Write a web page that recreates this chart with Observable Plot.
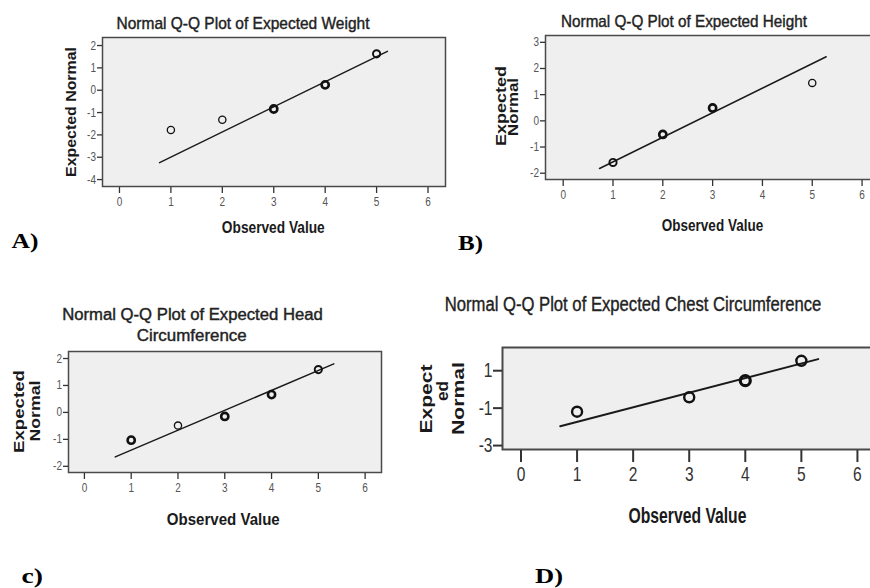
<!DOCTYPE html>
<html><head><meta charset="utf-8">
<script src="https://cdn.jsdelivr.net/npm/d3@7"></script>
<script src="https://cdn.jsdelivr.net/npm/@observablehq/plot@0.6"></script>
<style>
html,body{margin:0;padding:0;background:#fff;}
#wrap{position:relative;width:870px;height:588px;overflow:hidden;background:#fff;}
#wrap > svg{position:absolute;margin:0;overflow:visible;}
</style></head><body><div id="wrap"></div>
<script>
// ---- data ----
const xTickValues = [0, 1, 2, 3, 4, 5, 6];

const weightObserved = [1, 2, 3, 4, 5];
const weightExpected = [-1.78, -1.32, -0.84, 0.24, 1.63];
const weightOverlap  = [1, 1, 2, 2, 1.5];
const weightLineX = [0.78, 5.21];
const weightLineY = [-3.24, 1.74];
const weightYTicks = [2, 1, 0, -1, -2, -3, -4];

const heightObserved = [1, 2, 3, 5];
const heightExpected = [-1.59, -0.52, 0.49, 1.45];
const heightOverlap  = [1.5, 2, 2, 1];
const heightLineX = [0.73, 5.28];
const heightLineY = [-1.82, 2.45];
const heightYTicks = [3, 2, 1, 0, -1, -2];

const headObserved = [1, 2, 3, 4, 5];
const headExpected = [-1.03, -0.49, -0.15, 0.66, 1.59];
const headOverlap  = [2, 1, 2, 2, 1.5];
const headLineX = [0.66, 5.33];
const headLineY = [-1.65, 1.80];
const headYTicks = [2, 1, 0, -1, -2];

const chestObserved = [1, 3, 4, 5];
const chestExpected = [-1.19, -0.42, 0.47, 1.53];
const chestOverlap  = [1.5, 1.5, 2, 1.5];
const chestLineX = [0.70, 5.30];
const chestLineY = [-1.97, 1.62];
const chestYTicks = [1, -1, -3];

const titles = [
  ["Normal Q-Q Plot of Expected Weight"],
  ["Normal Q-Q Plot of Expected Height"],
  ["Normal Q-Q Plot of Expected Head", "Circumference"],
  ["Normal Q-Q Plot of Expected Chest Circumference"]
];
const yLabels = [["Expected Normal"], ["Expected", "Normal"], ["Expected", "Normal"], ["Expect", "ed", "Normal"]];
const xLabels = ["Observed Value", "Observed Value", "Observed Value", "Observed Value"];
const panelLetters = ["A)", "B)", "c)", "D)"];

// ---- layout ----
const panels = [
  {obs: weightObserved, exp: weightExpected, ov: weightOverlap, lx: weightLineX, ly: weightLineY, yTicks: weightYTicks,
   frame: [102, 37, 445, 186], xDomain: [-0.33, 6.34], yDomain: [-4.31, 2.36],
   fs: 12.5, sq: 0.8, tsx: 6, tpx: 4, tsy: 5, tpy: 1.5, r: 3.6, sw: 1.3, labelFill: "#555"},
  {obs: heightObserved, exp: heightExpected, ov: heightOverlap, lx: heightLineX, ly: heightLineY, yTicks: heightYTicks,
   frame: [545, 35, 878, 179], xDomain: [-0.355, 6.33], yDomain: [-2.24, 3.26],
   fs: 12.5, sq: 0.8, tsx: 6, tpx: 4, tsy: 5, tpy: 1.5, r: 3.6, sw: 1.3, labelFill: "#555"},
  {obs: headObserved, exp: headExpected, ov: headOverlap, lx: headLineX, ly: headLineY, yTicks: headYTicks,
   frame: [68, 351, 381, 472], xDomain: [-0.34, 6.35], yDomain: [-2.23, 2.26],
   fs: 12.5, sq: 0.8, tsx: 6, tpx: 4, tsy: 5, tpy: 1.5, r: 3.6, sw: 1.3, labelFill: "#555"},
  {obs: chestObserved, exp: chestExpected, ov: chestOverlap, lx: chestLineX, ly: chestLineY, yTicks: chestYTicks,
   frame: [502, 347, 876, 449], xDomain: [-0.33, 6.34], yDomain: [-3.21, 2.24],
   fs: 21, sq: 0.74, tsx: 12, tpx: 4, tsy: 9, tpy: 1, r: 5, sw: 1.6, labelFill: "#333", strokeW: 2}
];

const ML = 50, MT = 6, MR = 6, MB = 45;
const wrap = document.getElementById("wrap");
const tickFmt = d => String(d);

panels.forEach(p => {
  const [x0, y0, x1, y1] = p.frame;
  const pts = p.obs.map((o, i) => ({o, e: p.exp[i], k: p.ov[i]}));
  const line = p.lx.map((o, i) => ({o, e: p.ly[i]}));
  const svg = Plot.plot({
    width: x1 - x0 + ML + MR,
    height: y1 - y0 + MT + MB,
    marginLeft: ML, marginTop: MT, marginRight: MR, marginBottom: MB,
    style: {fontFamily: "'Liberation Sans',Arial,sans-serif", background: "transparent", overflow: "visible"},
    x: {domain: p.xDomain, label: null},
    y: {domain: p.yDomain, label: null},
    marks: [
      Plot.frame({fill: "#efefef", stroke: "#4a4a4a", strokeWidth: p.strokeW || 1.5}),
      Plot.line(line, {x: "o", y: "e", stroke: "#1a1a1a", strokeWidth: p.strokeW || 1.5}),
      Plot.dot(pts, {x: "o", y: "e", r: p.r, stroke: "#111", fill: "none", strokeWidth: d => p.sw * d.k}),
      Plot.axisX({ticks: xTickValues, tickFormat: tickFmt, tickSize: p.tsx, tickPadding: p.tpx, dy: 1, fontSize: p.fs,
                  stroke: "#333", strokeWidth: p.strokeW || 1.3, fill: p.labelFill, label: null}),
      Plot.axisY({ticks: p.yTicks, tickFormat: tickFmt, tickSize: p.tsy, tickPadding: p.tpy, fontSize: p.fs,
                  stroke: "#333", strokeWidth: p.strokeW || 1.3, fill: p.labelFill, label: null})
    ]
  });
  svg.style.left = (x0 - ML) + "px";
  svg.style.top = (y0 - MT) + "px";
  wrap.appendChild(svg);
  // narrow the tick labels like the condensed SPSS font
  svg.querySelectorAll('g[aria-label$="tick label"] text').forEach(t => {
    const w = t.getComputedTextLength();
    t.setAttribute("textLength", (w * p.sq).toFixed(2));
    t.setAttribute("lengthAdjust", "spacingAndGlyphs");
  });
});

// ---- text overlay ----
const textLayout = {
  titles: [
    [{x: 243, y: 29, len: 253, fs: 16}],
    [{x: 684, y: 26.5, len: 246, fs: 16}],
    [{x: 192.5, y: 320, len: 261, fs: 16}, {x: 191.7, y: 340.5, len: 110, fs: 16}],
    [{x: 633, y: 311, len: 377, fs: 21}]
  ],
  ylab: [
    [{x: 76, y: 112, len: 130, fs: 15}],
    [{x: 505.5, y: 106, len: 80, fs: 15}, {x: 517.5, y: 107, len: 58, fs: 15}],
    [{x: 23.5, y: 411.5, len: 83, fs: 15}, {x: 40, y: 411, len: 61, fs: 15}],
    [{x: 431.5, y: 399, len: 69, fs: 16}, {x: 447.5, y: 391, len: 20, fs: 16}, {x: 463.5, y: 398.5, len: 73, fs: 16}]
  ],
  xlab: [
    {x: 273.3, y: 233, len: 103, fs: 16},
    {x: 712.5, y: 230.5, len: 101.5, fs: 16},
    {x: 223.3, y: 525, len: 113, fs: 16},
    {x: 687.5, y: 523, len: 118, fs: 22}
  ],
  letters: [
    {x: 11.5, y: 248, len: 27, fs: 21},
    {x: 458, y: 250, len: 25, fs: 21},
    {x: 21.5, y: 583, len: 21.5, fs: 21},
    {x: 535, y: 583, len: 28, fs: 22}
  ]
};

const ov = d3.select(wrap).append("svg")
  .attr("width", 870).attr("height", 588)
  .style("left", "0px").style("top", "0px");

const sans = "'Liberation Sans',Arial,sans-serif";
const serif = "'Liberation Serif','Times New Roman',serif";

function place(t, L, {family, weight = "normal", anchor = "middle", rotate = 0, fill = "#1a1a1a", halo = 0}) {
  const el = ov.append("text").attr("text-anchor", anchor)
    .attr("font-family", family).attr("font-weight", weight).attr("font-size", L.fs)
    .attr("fill", fill).text(t);
  if (halo) el.attr("stroke", fill).attr("stroke-width", halo);
  const w = el.node().getComputedTextLength();
  const s = L.len / w;
  el.attr("transform", `translate(${L.x},${L.y})${rotate ? ` rotate(${rotate})` : ""} scale(${s.toFixed(4)},1)`);
}

titles.forEach((lines, i) => lines.forEach((t, j) =>
  place(t, textLayout.titles[i][j], {family: sans, fill: "#222", halo: 0.4})));

yLabels.forEach((lines, i) => lines.forEach((t, j) =>
  place(t, textLayout.ylab[i][j], {family: sans, weight: "bold", rotate: -90})));

xLabels.forEach((t, i) => place(t, textLayout.xlab[i], {family: sans, weight: "bold"}));

panelLetters.forEach((t, i) =>
  place(t, textLayout.letters[i], {family: serif, weight: "bold", anchor: "start", fill: "#000"}));
</script></body></html>
